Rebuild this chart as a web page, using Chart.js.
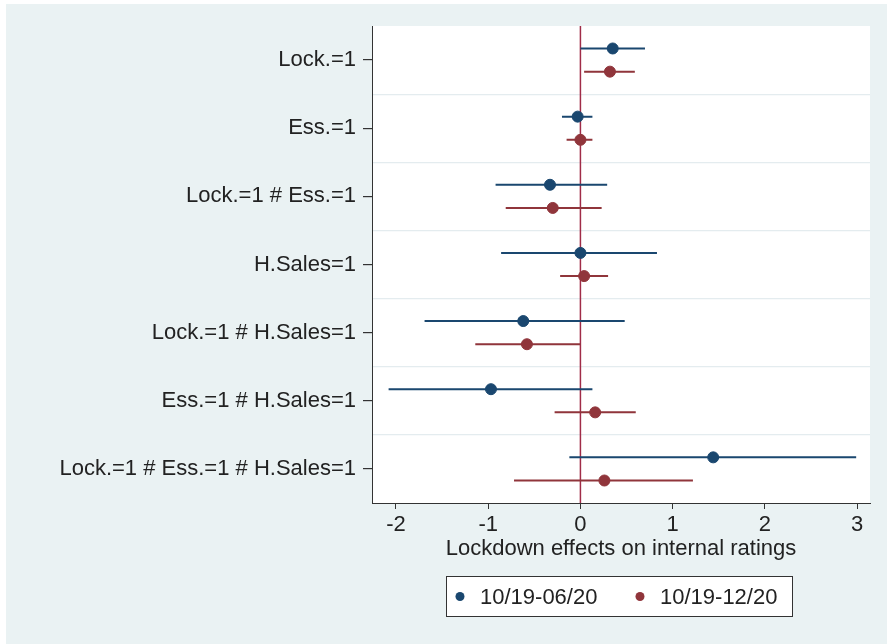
<!DOCTYPE html>
<html>
<head>
<meta charset="utf-8">
<script src="https://cdn.jsdelivr.net/npm/chart.js@4.4.0/dist/chart.umd.min.js"></script>
<style>
  body { margin: 0; background: #fff; }
  canvas { display: block; }
</style>
</head>
<body>
<canvas id="myChart" width="887" height="644"></canvas>
<script>
// categories, top to bottom
var categories = ['Lock.=1', 'Ess.=1', 'Lock.=1 # Ess.=1', 'H.Sales=1',
  'Lock.=1 # H.Sales=1', 'Ess.=1 # H.Sales=1', 'Lock.=1 # Ess.=1 # H.Sales=1'];

// 10/19-06/20
var est1 = [0.35, -0.03, -0.33, 0.00, -0.62, -0.97, 1.44];
var lo1  = [0.00, -0.20, -0.92, -0.86, -1.69, -2.08, -0.12];
var hi1  = [0.70, 0.13, 0.29, 0.83, 0.48, 0.13, 2.99];

// 10/19-12/20
var est2 = [0.32, 0.00, -0.30, 0.04, -0.58, 0.16, 0.26];
var lo2  = [0.04, -0.15, -0.81, -0.22, -1.14, -0.28, -0.72];
var hi2  = [0.59, 0.13, 0.23, 0.30, 0.00, 0.60, 1.22];

var seriesNames = ['10/19-06/20', '10/19-12/20'];
var xTicks = [-2, -1, 0, 1, 2, 3];

var blue = '#1a476f';
var red = '#90353b';
var zeroColor = '#a02c48';
var textColor = '#222';
var FONT = '"Liberation Sans", Arial, sans-serif';
var FS = 22;
var off = 0.17; // vertical shift of each series inside a category row

function points(est, shift) {
  return est.map(function (v, i) { return { x: v, y: i + 1 + shift }; });
}
function ciLine(lo, hi, shift) {
  var out = [];
  lo.forEach(function (l, i) {
    out.push({ x: l, y: i + 1 + shift });
    out.push({ x: hi[i], y: i + 1 + shift });
    out.push({ x: hi[i], y: null });
  });
  return out;
}

var bgPlugin = {
  id: 'bg',
  beforeDraw: function (chart) {
    var c = chart.ctx, a = chart.chartArea;
    c.save();
    c.fillStyle = '#ffffff';
    c.fillRect(0, 0, chart.width, chart.height);
    c.fillStyle = '#eaf2f3';
    c.fillRect(6, 4, chart.width - 6, chart.height - 4);
    c.fillStyle = '#ffffff';
    c.fillRect(a.left, a.top, a.right - a.left, a.bottom - a.top);
    c.restore();
  }
};

// boxed legend below the plot, like the original
var legendPlugin = {
  id: 'boxLegend',
  afterDraw: function (chart) {
    var c = chart.ctx;
    var x0 = 446, y0 = 576, w = 347, h = 41;
    c.save();
    c.fillStyle = '#fff';
    c.fillRect(x0, y0, w, h);
    c.strokeStyle = '#333';
    c.lineWidth = 1;
    c.strokeRect(x0 + 0.5, y0 + 0.5, w - 1, h - 1);
    var cols = [blue, red];
    var xs = [460, 640];
    c.font = FS + 'px ' + FONT;
    c.textBaseline = 'middle';
    for (var k = 0; k < 2; k++) {
      c.fillStyle = cols[k];
      c.beginPath();
      c.arc(xs[k], y0 + h / 2, 4.5, 0, Math.PI * 2);
      c.fill();
      c.fillStyle = textColor;
      c.fillText(seriesNames[k], xs[k] + 20, y0 + h / 2 + 1);
    }
    c.restore();
  }
};

var graphData = {
  type: 'scatter',
  data: {
    datasets: [
      {
        label: 'zero', type: 'line',
        data: [{ x: 0, y: 0.5 }, { x: 0, y: 7.5 }],
        borderColor: zeroColor, borderWidth: 1.5, pointRadius: 0, order: 3
      },
      {
        label: seriesNames[0] + ' CI', showLine: true, spanGaps: false,
        data: ciLine(lo1, hi1, -off),
        borderColor: blue, borderWidth: 2, pointRadius: 0, order: 2
      },
      {
        label: seriesNames[1] + ' CI', showLine: true, spanGaps: false,
        data: ciLine(lo2, hi2, off),
        borderColor: red, borderWidth: 2, pointRadius: 0, order: 2
      },
      {
        label: seriesNames[0],
        data: points(est1, -off),
        backgroundColor: blue, borderColor: blue, pointRadius: 5.5, order: 1
      },
      {
        label: seriesNames[1],
        data: points(est2, off),
        backgroundColor: red, borderColor: red, pointRadius: 5.5, order: 1
      }
    ]
  },
  options: {
    responsive: false,
    animation: false,
    devicePixelRatio: 1,
    layout: { padding: { left: 6, right: 17, top: 26, bottom: 68 } },
    plugins: {
      legend: { display: false },
      tooltip: { enabled: false }
    },
    scales: {
      x: {
        type: 'linear',
        min: -2.26, max: 3.14,
        afterBuildTicks: function (s) { s.ticks = xTicks.map(function (v) { return { value: v }; }); },
        afterFit: function (s) { s.height = 73; },
        grid: { drawOnChartArea: false, drawTicks: true, tickLength: 6, tickColor: '#333' },
        border: { display: true, color: '#333', width: 1 },
        ticks: { color: textColor, font: { family: FONT, size: FS }, padding: 3, maxRotation: 0 },
        title: {
          display: true, text: 'Lockdown effects on internal ratings',
          color: textColor, font: { family: FONT, size: FS },
          padding: { top: 0, bottom: 14 }
        }
      },
      y: {
        type: 'linear',
        reverse: true,
        min: 0.5, max: 7.5,
        afterBuildTicks: function (s) {
          var t = [];
          for (var i = 1; i <= categories.length; i++) {
            t.push({ value: i });
            if (i < categories.length) t.push({ value: i + 0.5 });
          }
          s.ticks = t;
        },
        afterFit: function (s) { s.width = 366; },
        grid: {
          color: function (ctx) { return Number.isInteger(ctx.tick.value) ? 'rgba(0,0,0,0)' : '#e4ecef'; },
          tickColor: function (ctx) { return Number.isInteger(ctx.tick.value) ? '#333' : 'rgba(0,0,0,0)'; },
          tickLength: 9,
          lineWidth: 1.2
        },
        border: { display: true, color: '#333', width: 1 },
        ticks: {
          color: textColor, font: { family: FONT, size: FS }, padding: 7, autoSkip: false,
          callback: function (v) { return Number.isInteger(v) ? categories[v - 1] : ''; }
        }
      }
    }
  },
  plugins: [bgPlugin, legendPlugin]
};

var myChart = new Chart(document.getElementById('myChart'), graphData);
</script>
</body>
</html>
